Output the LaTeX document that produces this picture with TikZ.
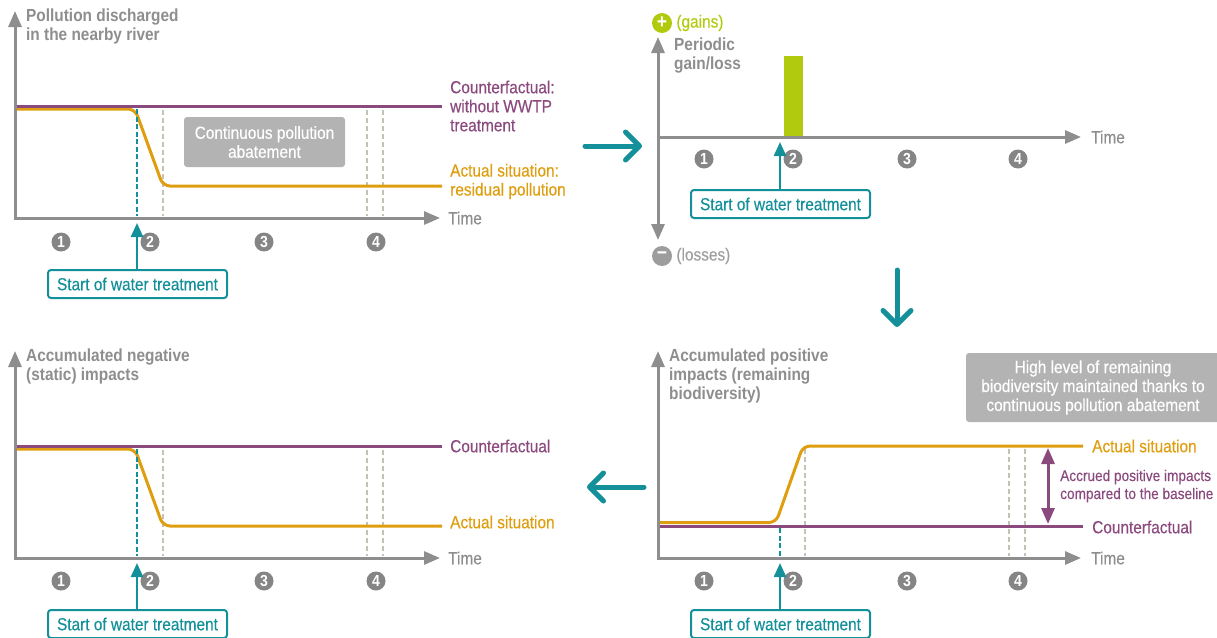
\documentclass[tikz,border=0pt]{standalone}
\usepackage{fontspec}
\setmainfont{Liberation Sans}[FakeStretch=0.88, UprightFeatures={FakeBold=0.35}]
\usetikzlibrary{arrows.meta}
\usetikzlibrary{positioning}

\definecolor{axisgray}{HTML}{8E8E8E}
\definecolor{cfpurple}{HTML}{8B4A7E}
\definecolor{actorange}{HTML}{DE9E10}
\definecolor{wteal}{HTML}{14909A}
\definecolor{dashgray}{HTML}{C6C2B2}
\definecolor{numgray}{HTML}{858585}
\definecolor{boxgray}{HTML}{B3B3B3}
\definecolor{gaingreen}{HTML}{B2CA0E}

\newcommand{\lblfont}{\fontsize{17.5}{19}\selectfont}

\tikzset{
  taxis/.style={draw=axisgray, line width=3pt, -{Triangle[length=16pt,width=13pt]}},
  taxisboth/.style={draw=axisgray, line width=3pt, {Triangle[length=16pt,width=13pt]}-{Triangle[length=16pt,width=13pt]}},
  axlabel/.style={anchor=north west, align=left, text=axisgray, font=\bfseries\lblfont, inner sep=0pt},
  timelabel/.style={anchor=west, text=axisgray, font=\lblfont, inner sep=0pt},
  cfline/.style={draw=cfpurple, line width=3pt},
  actline/.style={draw=actorange, line width=3pt, rounded corners=7pt},
  cflabel/.style={anchor=west, align=left, text=cfpurple, font=\lblfont, inner sep=0pt},
  actlabel/.style={anchor=west, align=left, text=actorange, font=\lblfont, inner sep=0pt},
  startline/.style={draw=wteal, line width=2.4pt, dash pattern=on 5pt off 2.5pt},
  phaseline/.style={draw=dashgray, line width=1.6pt, dash pattern=on 5pt off 3pt},
  phasedot/.style={circle, fill=numgray, text=white, font=\bfseries\fontsize{16}{16}\selectfont, inner sep=0pt, minimum size=19pt},
  startbox/.style={draw=wteal, line width=2pt, rounded corners=3pt, fill=white, text=wteal, font=\lblfont, minimum width=179pt, minimum height=28pt, inner sep=0pt},
  startarrow/.style={draw=wteal, line width=2.4pt, -{Triangle[length=14pt,width=12pt]}},
  notebox/.style={fill=boxgray, rounded corners=3pt, text=white, align=center, font=\lblfont, inner sep=0pt},
  flowarrow/.style={draw=wteal, line width=5pt, line cap=round, -{Straight Barb[length=14pt,width=28pt,round]}},
  gaparrow/.style={draw=cfpurple, line width=3pt, {Triangle[length=16pt,width=13pt]}-{Triangle[length=16pt,width=13pt]}}
}

\begin{document}
\begin{tikzpicture}[x=1pt, y=-1pt]
	\useasboundingbox (0,0) rectangle (1217,637);

	% pollution discharged
	\coordinate (o1) at (15,218);
	\coordinate (ytip1) at (15,11);
	\coordinate (xtip1) at (440,218);
	\foreach \x in {163,367,383}
	{\draw[phaseline] (\x,110) -- (\x,216);}
	\draw[actline] (15,109) -- (135,109) -- (163,186) -- (442,186);
	\coordinate (cf1a) at (15,106);
	\coordinate (cf1b) at (442,106);
	\draw[cfline] (cf1a) -- (cf1b);
	\draw[startline] (137,109) -- (137,216);
	\draw[taxisboth] (ytip1) -- (o1) -- (xtip1);
	\node[axlabel] (ylab1) at (26,9) {Pollution discharged\\in the nearby river};
	\node[timelabel, right=8pt of xtip1] (time1) {Time};
	\node[cflabel] (cflab1) at (450,106) {Counterfactual:\\without WWTP\\treatment};
	\node[actlabel] (actlab1) at (450,181.5) {Actual situation:\\residual pollution};
	\node[notebox, minimum width=161pt, minimum height=50pt] (note1) at (264.5,142) {Continuous pollution\\abatement};
	\foreach \n/\x in {1/61,2/150,3/264,4/376}
	{\node[phasedot] (p1\n) at (\x,242) {\n};}
	\node[startbox] (start1) at (137.5,284) {Start of water treatment};
	\coordinate (hit1) at (137,223);
	\draw[startarrow] (start1.north -| hit1) -- (hit1);

	% periodic gain/loss
	\coordinate (o2) at (658,137);
	\coordinate (ytop2) at (658,37);
	\coordinate (ybot2) at (658,240);
	\coordinate (xtip2) at (1081,137);
	\node[fill=gaingreen, minimum width=19pt, minimum height=81pt, inner sep=0pt, anchor=south] (gain) at (793.5,137) {};
	\draw[taxisboth] (ybot2) -- (ytop2);
	\draw[taxis] (o2) -- (xtip2);
	\node[circle, fill=gaingreen, text=white, font=\bfseries\fontsize{20}{20}\selectfont, inner sep=0pt, minimum size=20pt] (plus) at (662,23) {+};
	\node[anchor=west, text=gaingreen, font=\lblfont, inner sep=0pt, right=4pt of plus] (gainlab) {(gains)};
	\node[circle, fill=numgray!80, text=white, font=\bfseries\fontsize{20}{20}\selectfont, inner sep=0pt, minimum size=20pt] (minus) at (662,256) {−};
	\node[anchor=west, text=axisgray!85, font=\lblfont, inner sep=0pt, right=4pt of minus] (losslab) {(losses)};
	\node[axlabel] (ylab2) at (674,38) {Periodic\\gain/loss};
	\node[timelabel, right=10pt of xtip2] (time2) {Time};
	\foreach \n/\x in {1/704,2/793,3/907,4/1018}
	{\node[phasedot] (p2\n) at (\x,159) {\n};}
	\node[startbox] (start2) at (780.5,204) {Start of water treatment};
	\coordinate (hit2) at (780,142);
	\draw[startarrow] (start2.north -| hit2) -- (hit2);

	% accumulated negative impacts
	\coordinate (o3) at (15,558);
	\coordinate (ytip3) at (15,351);
	\coordinate (xtip3) at (440,558);
	\foreach \x in {163,367,383}
	{\draw[phaseline] (\x,450) -- (\x,556);}
	\draw[actline] (15,449) -- (135,449) -- (163,526) -- (442,526);
	\coordinate (cf3a) at (15,446);
	\coordinate (cf3b) at (442,446);
	\draw[cfline] (cf3a) -- (cf3b);
	\draw[startline] (137,449) -- (137,556);
	\draw[taxisboth] (ytip3) -- (o3) -- (xtip3);
	\node[axlabel] (ylab3) at (26,349) {Accumulated negative\\(static) impacts};
	\node[timelabel, right=8pt of xtip3] (time3) {Time};
	\node[cflabel] (cflab3) at (450,446) {Counterfactual};
	\node[actlabel] (actlab3) at (450,522) {Actual situation};
	\foreach \n/\x in {1/61,2/150,3/264,4/376}
	{\node[phasedot] (p3\n) at (\x,581) {\n};}
	\node[startbox] (start3) at (137.5,624) {Start of water treatment};
	\coordinate (hit3) at (137,563);
	\draw[startarrow] (start3.north -| hit3) -- (hit3);

	% accumulated positive impacts
	\coordinate (o4) at (658,558);
	\coordinate (ytip4) at (658,351);
	\coordinate (xtip4) at (1081,558);
	\foreach \x in {805,1009,1025}
	{\draw[phaseline] (\x,449) -- (\x,556);}
	\draw[actline] (658,522.5) -- (776,522.5) -- (803,446) -- (1083,446);
	\coordinate (cf4a) at (658,526);
	\coordinate (cf4b) at (1083,526);
	\draw[cfline] (cf4a) -- (cf4b);
	\draw[startline] (780,528) -- (780,556);
	\draw[taxisboth] (ytip4) -- (o4) -- (xtip4);
	\node[axlabel] (ylab4) at (669,349) {Accumulated positive\\impacts (remaining\\biodiversity)};
	\node[timelabel, right=10pt of xtip4] (time4) {Time};
	\node[actlabel] (actlab4) at (1092,446) {Actual situation};
	\node[cflabel] (cflab4) at (1092,527) {Counterfactual};
	\coordinate (gaptop) at (1048,448);
	\coordinate (gapbot) at (1048,524);
	\draw[gaparrow] (gaptop) -- (gapbot);
	\node[cflabel, font=\fontsize{15.5}{18}\selectfont] (gaplab) at (1060,486) {Accrued positive impacts\\compared to the baseline};
	\node[notebox, minimum width=254pt, minimum height=69pt] (note4) at (1093,387.5) {High level of remaining\\biodiversity maintained thanks to\\continuous pollution abatement};
	\foreach \n/\x in {1/704,2/793,3/907,4/1018}
	{\node[phasedot] (p4\n) at (\x,581) {\n};}
	\node[startbox] (start4) at (780.5,624) {Start of water treatment};
	\coordinate (hit4) at (780,563);
	\draw[startarrow] (start4.north -| hit4) -- (hit4);

	% reading order
	\coordinate (f1a) at (585,146);
	\coordinate (f1b) at (642,146);
	\coordinate (f2a) at (897,270);
	\coordinate (f2b) at (897,327);
	\coordinate (f3a) at (644,487);
	\coordinate (f3b) at (587,487);
	\draw[flowarrow] (f1a) -- (f1b);
	\draw[flowarrow] (f2a) -- (f2b);
	\draw[flowarrow] (f3a) -- (f3b);
\end{tikzpicture}
\end{document}
